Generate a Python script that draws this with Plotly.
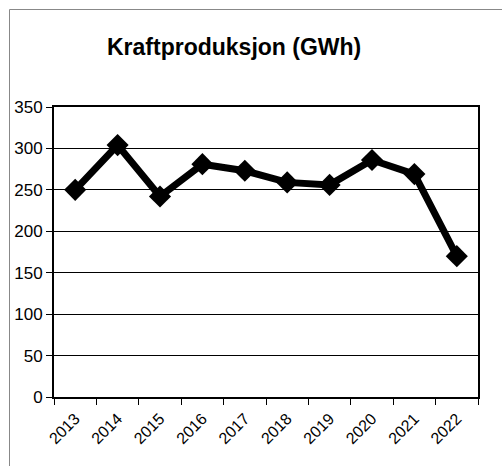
import plotly.graph_objects as go

years = ["2013", "2014", "2015", "2016", "2017", "2018", "2019", "2020", "2021", "2022"]
production_gwh = [250, 304, 242, 281, 273, 259, 256, 286, 269, 170]
y_ticks = [0, 50, 100, 150, 200, 250, 300, 350]

W, H = 502, 466
L, R, T, B = 54, 24, 107, 69
pw, ph = W - L - R, H - T - B

def px_x(px):
    return (px - L) / pw

def px_y(py):
    return (H - B - py) / ph

fig = go.Figure()
fig.add_trace(go.Scatter(
    x=years, y=production_gwh, mode="lines+markers",
    line=dict(color="black", width=7),
    marker=dict(symbol="diamond", size=17, color="black"),
    showlegend=False, cliponaxis=False, hoverinfo="skip",
))

fig.update_layout(
    width=W, height=H,
    margin=dict(l=L, r=R, t=T, b=B, autoexpand=False),
    paper_bgcolor="white", plot_bgcolor="white",
    font=dict(family="Liberation Sans, Arial, sans-serif", color="black", size=16),
    xaxis=dict(
        type="category", tickson="boundaries", ticks="outside", ticklen=6,
        tickcolor="black", tickwidth=1, tickangle=-45,
        showgrid=False, showline=True, linecolor="black", linewidth=2,
        mirror=True, range=[-0.5, 9.5], tickfont=dict(size=16),
        ticklabelstandoff=4,
    ),
    yaxis=dict(
        range=[0, 350], tickvals=y_ticks, ticks="outside", ticklen=6,
        tickcolor="black", showgrid=True, gridcolor="black", gridwidth=1,
        showline=True, linecolor="black", linewidth=2, mirror=True,
        zeroline=False, tickfont=dict(size=17),
    ),
    annotations=[dict(
        text="<b>Kraftproduksjon (GWh)</b>", xref="paper", yref="paper",
        x=px_x(233.5), y=px_y(47), xanchor="center", yanchor="middle",
        showarrow=False, font=dict(size=23, color="black"),
    )],
    shapes=[dict(
        type="rect", xref="paper", yref="paper",
        x0=px_x(9.5), y0=px_y(480), x1=px_x(520), y1=px_y(9.5),
        line=dict(color="#888888", width=1), fillcolor="rgba(0,0,0,0)",
        layer="below",
    )],
)

fig.write_html("out.html", config={"displayModeBar": False})

with open("out.html", "r", encoding="utf-8") as f:
    html = f.read()
html = html.replace("<head>", "<head><style>html,body{margin:0;padding:0;overflow:hidden;}</style>", 1)
with open("out.html", "w", encoding="utf-8") as f:
    f.write(html)
